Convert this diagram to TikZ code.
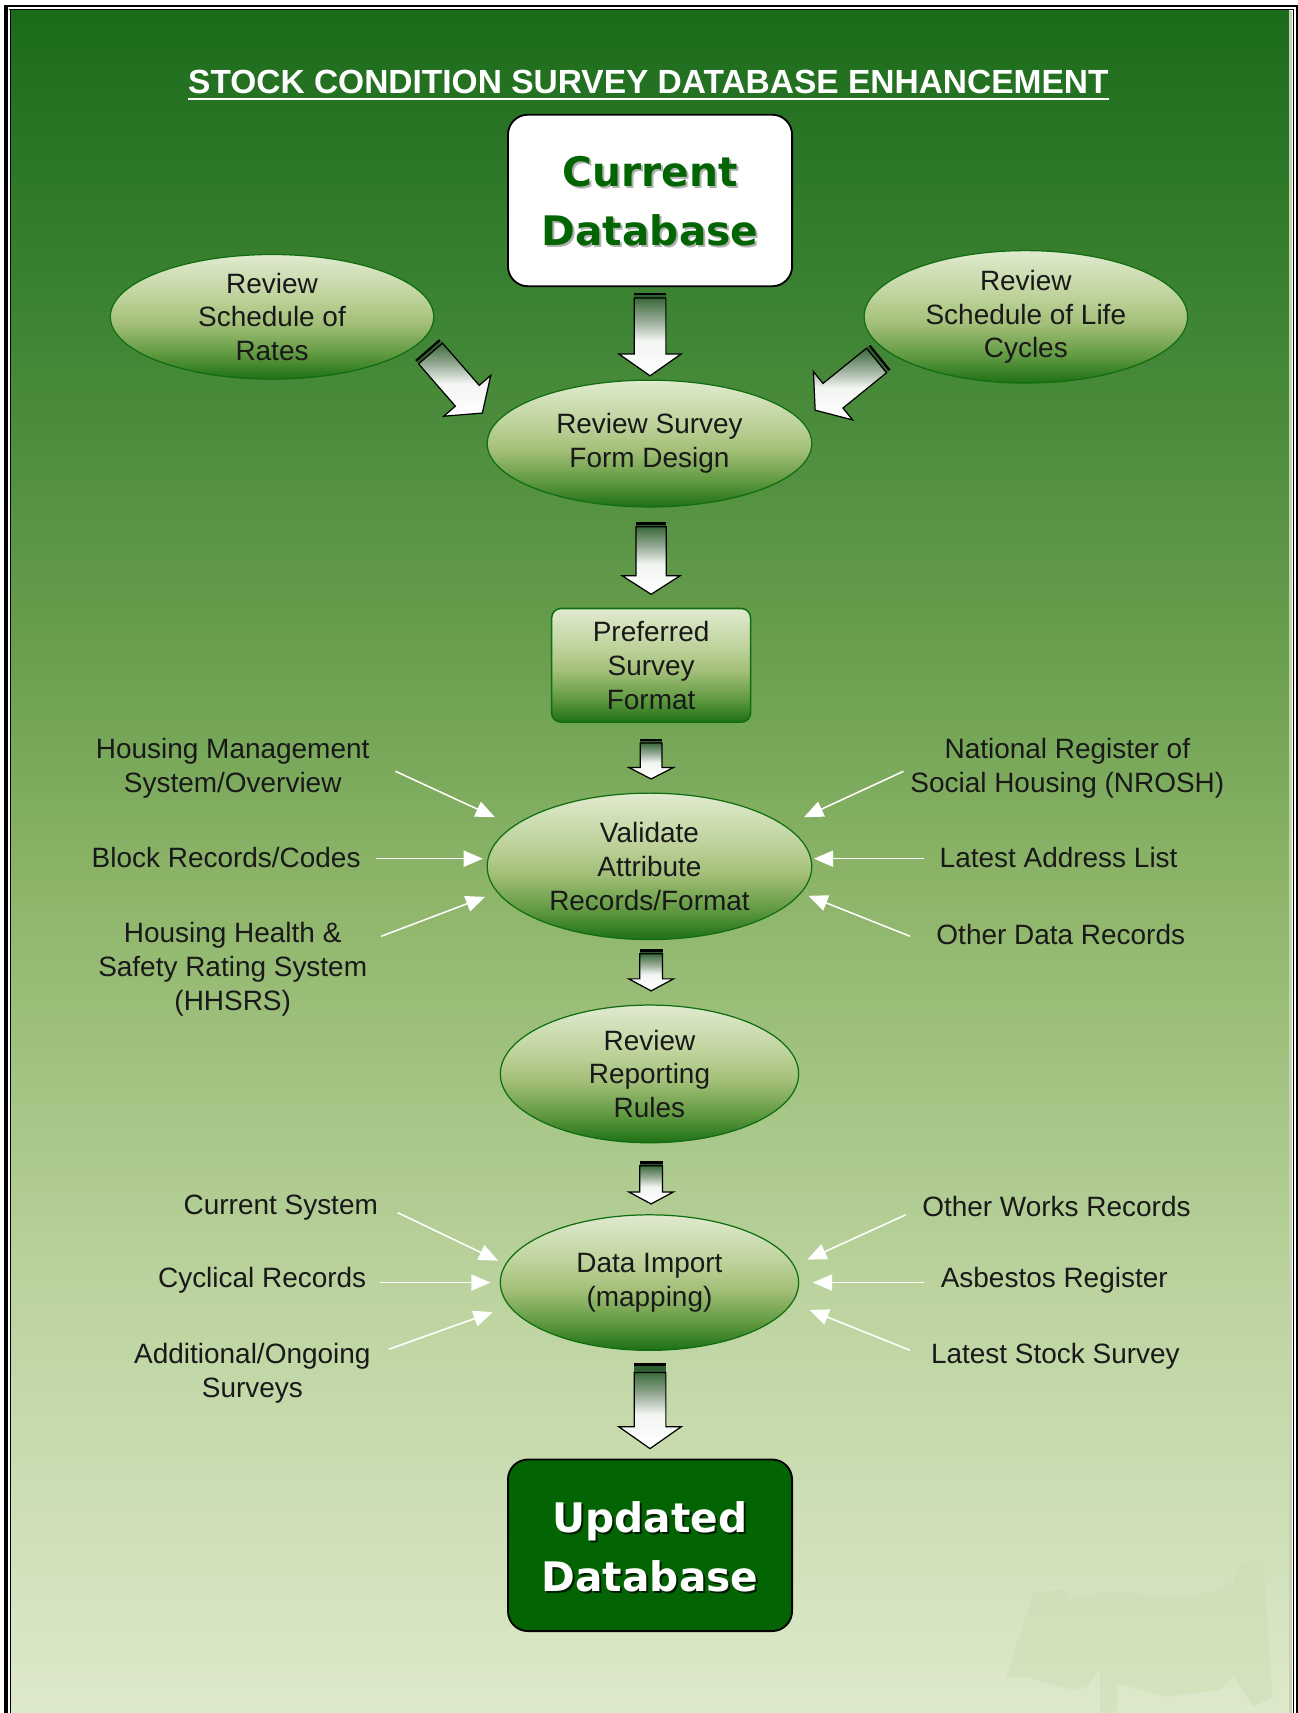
\documentclass[tikz,border=0pt]{standalone}
\usepackage{fontspec}
\setmainfont{Liberation Sans}
\newfontfamily\bighead{DejaVu Sans}
\usetikzlibrary{shapes.geometric,arrows.meta,calc}

% page background: dark green at the top fading to pale green at the bottom
\definecolor{bgtop}{HTML}{1B6B1B}
\definecolor{bgb}{HTML}{3F8535}
\definecolor{bgc}{HTML}{6A9F4F}
\definecolor{bgd}{HTML}{8CB468}
\definecolor{bge}{HTML}{BBD39E}
\definecolor{bgbot}{HTML}{DEE9CC}
\pgfdeclareverticalshading{bggrad}{100bp}{color(0bp)=(bgbot); color(25bp)=(bgbot);
  color(37.5bp)=(bge); color(49.5bp)=(bgd); color(56bp)=(bgc); color(65.6bp)=(bgb);
  color(75bp)=(bgtop); color(100bp)=(bgtop)}

% process shapes: pale top, olive middle, dark green bottom
\definecolor{elA}{HTML}{E0EACF}
\definecolor{elB}{HTML}{BDD29A}
\definecolor{elC}{HTML}{A3BF78}
\definecolor{elD}{HTML}{5F9940}
\definecolor{elE}{HTML}{1E7016}
\definecolor{elline}{HTML}{0F6E0F}
\pgfdeclareverticalshading{ellgrad}{100bp}{color(0bp)=(elE); color(25bp)=(elE);
  color(35bp)=(elD); color(47.5bp)=(elC); color(57.5bp)=(elB);
  color(75bp)=(elA); color(100bp)=(elA)}

% block arrows: dark at the tail, white towards the head
\definecolor{arA}{HTML}{3B6A3B}
\definecolor{arB}{HTML}{9AAE9A}
\definecolor{arC}{HTML}{F2F5F2}
\definecolor{argap}{HTML}{2F5F2F}
\pgfdeclareverticalshading{arrgrad}{100bp}{color(0bp)=(white); color(25bp)=(white);
  color(47.5bp)=(arC); color(60bp)=(arB); color(75bp)=(arA); color(100bp)=(arA)}

\definecolor{dbgreen}{HTML}{036403}
\definecolor{marklight}{HTML}{CBDBB2}
\definecolor{edgestripe}{HTML}{C6D3B0}

% #1 placement, #2 length, #3 shaft width, #4 head width, #5 head length, #6 gap below the cap bar
\newcommand\fatarrow[6]{%
  \begin{scope}[#1]
    \fill[black] (-#3/2,0) -- (#3/2,0) -- (#3/2,2.2) -- (-#3/2,2.2) -- cycle;
    \fill[argap] (-#3/2,2.2) -- (#3/2,2.2) -- (#3/2,2.2+#6) -- (-#3/2,2.2+#6) -- cycle;
    \path[shade, shading=arrgrad, draw=black, line width=0.8pt, line join=miter]
      (-#3/2,2.2+#6) -- (#3/2,2.2+#6) -- (#3/2,#2-#5) -- (#4/2,#2-#5) -- (0,#2)
      -- (-#4/2,#2-#5) -- (-#3/2,#2-#5) -- cycle;
  \end{scope}}

\tikzset{
  bodytext/.style={font=\fontsize{18.2}{22}\selectfont, text=black!90, align=center},
  ell/.style={ellipse, draw=elline, line width=0.8pt, shade, shading=ellgrad,
    inner sep=0pt, bodytext},
  pbox/.style={rectangle, rounded corners=6pt, draw=elline, line width=1pt, shade,
    shading=ellgrad, inner sep=0pt, minimum width=4.55cm, minimum height=2.6cm, bodytext},
  bigbox/.style={rectangle, rounded corners=13pt, draw=black, line width=1.2pt,
    minimum width=6.5cm, minimum height=3.925cm},
  bigtext/.style={font=\bighead\bfseries\fontsize{26.5}{38.4}\selectfont, align=center},
  sidelbl/.style={bodytext},
  feed/.style={draw=white, line width=1pt,
    -{Triangle[length=12.5pt,width=10.5pt,fill=white]}}
}

\begin{document}
\begin{tikzpicture}[x=0.025cm,y=-0.025cm]
\useasboundingbox (0,0) rectangle (1188,1568);

% ---- background and frame
\fill[white] (0,0) rectangle (1188,1568);
\fill[shade, shading=bggrad] (10,10) rectangle (1180,1568);
\fill[edgestripe] (1179.5,10) rectangle (1183,1568);
\draw[black, line width=1.3pt] (4.5,5.6) -- (1187,5.6) -- (1187,1568);
\draw[black, line width=0.9pt] (8.5,8.9) -- (1184,8.9) -- (1184,1568);
\fill[black] (3.7,5) rectangle (7.3,1568);
\draw[black, line width=0.8pt] (9.3,8.9) -- (9.3,1568);

% faint emblem in the lower right corner
\fill[marklight, opacity=0.45] (921,1535) -- (946,1458) -- (976,1455) -- (979,1464)
  -- (1007,1458) -- (1037,1458) -- (1074,1462) -- (1104,1458) -- (1129,1449)
  -- (1135,1431) -- (1156,1428) -- (1165,1553) -- (1147,1562) -- (1129,1535)
  -- (1117,1547) -- (1068,1553) -- (1022,1541) -- (1022,1568) -- (1007,1568)
  -- (1007,1528) -- (995,1544) -- (982,1547) -- (940,1535) -- cycle;

% ---- title
\node[font=\bfseries\fontsize{21.8}{26}\selectfont, text=white, anchor=base, inner sep=0pt]
  (title) at (593.5,86) {STOCK CONDITION SURVEY DATABASE ENHANCEMENT};
\draw[white, line width=1.4pt] ($(title.base west)+(0,4.5)$) -- ($(title.base east)+(0,4.5)$);

% ---- start and end databases
\node[bigbox, fill=white] (cur) at (595,183.5) {};
\node[bigtext, text=black!55, opacity=0.55] (curshade) at (596.8,186.3) {Current\\Database};
\node[bigtext, text=dbgreen] (curtxt) at (595,184.5) {Current\\Database};

\node[bigbox, fill=dbgreen] (upd) at (595,1414.5) {};
\node[bigtext, text=black, opacity=0.7] (updshade) at (596.8,1417.3) {Updated\\Database};
\node[bigtext, text=white] (updtxt) at (595,1415.5) {Updated\\Database};

% ---- process steps
\node[ell, minimum width=7.4cm, minimum height=2.85cm] (rates) at (249,290) {Review\\Schedule of\\Rates};
\node[ell, minimum width=7.4cm, minimum height=2.85cm] (life) at (939,290) {Review\\Schedule of Life\\Cycles};
\node[ell, minimum width=7.425cm, minimum height=2.9cm] (form) at (594.5,406) {Review Survey\\Form Design};
\node[pbox] (pref) at (596,609) {Preferred\\Survey\\Format};
\node[ell, minimum width=7.425cm, minimum height=3.35cm] (valid) at (594.5,793) {Validate\\Attribute\\Records/Format};
\node[ell, minimum width=6.825cm, minimum height=3.15cm] (rules) at (594.5,983) {Review\\Reporting\\Rules};
\node[ell, minimum width=6.825cm, minimum height=3.1cm] (imp) at (594.5,1174) {Data Import\\(mapping)};

% ---- block arrows along the main flow
\fatarrow{shift={(595,268)}}{76}{29}{57}{20}{2.5}
\fatarrow{shift={(391,320)},rotate=41}{77}{29}{57}{21}{2.5}
\fatarrow{shift={(806,327)},rotate=-51}{77}{29}{57}{21}{2.5}
\fatarrow{shift={(596,478)}}{66}{27.5}{53}{17}{2}
\fatarrow{shift={(596,676)}}{37}{20}{41}{10.5}{1.8}
\fatarrow{shift={(596,869)}}{38}{21}{41}{11}{1.8}
\fatarrow{shift={(596,1063)}}{39}{21}{41}{11}{1.8}
\fatarrow{shift={(595,1248)}}{78}{29}{57}{20}{6}

% ---- inputs to validation
\node[sidelbl] (hm) at (213,703) {Housing Management\\System/Overview};
\node[sidelbl] (br) at (207,785) {Block Records/Codes};
\node[sidelbl] (hh) at (213,887) {Housing Health \&\\Safety Rating System\\(HHSRS)};
\node[sidelbl] (nr) at (977,703) {National Register of\\Social Housing (NROSH)};
\node[sidelbl] (la) at (969,785) {Latest Address List};
\node[sidelbl] (od) at (971,855) {Other Data Records};

\coordinate (hm0) at (362,706); \coordinate (hm1) at (453,748);
\coordinate (br0) at (344,786); \coordinate (br1) at (442,786);
\coordinate (hh0) at (349,857); \coordinate (hh1) at (444,821);
\coordinate (nr0) at (827,706); \coordinate (nr1) at (736,748);
\coordinate (la0) at (846,786); \coordinate (la1) at (745,786);
\coordinate (od0) at (833,857); \coordinate (od1) at (740,820);
\draw[feed] (hm0) -- (hm1);
\draw[feed] (br0) -- (br1);
\draw[feed] (hh0) -- (hh1);
\draw[feed] (nr0) -- (nr1);
\draw[feed] (la0) -- (la1);
\draw[feed] (od0) -- (od1);

% ---- inputs to the data import
\node[sidelbl] (cs) at (257,1105) {Current System};
\node[sidelbl] (cr) at (240,1172) {Cyclical Records};
\node[sidelbl] (ad) at (231,1257) {Additional/Ongoing\\Surveys};
\node[sidelbl] (ow) at (967,1104) {Other Works Records};
\node[sidelbl] (as) at (965,1172) {Asbestos Register};
\node[sidelbl] (ls) at (966,1241) {Latest Stock Survey};

\coordinate (cs0) at (364,1110); \coordinate (cs1) at (456,1154);
\coordinate (cr0) at (348,1174); \coordinate (cr1) at (449,1174);
\coordinate (ad0) at (356,1235); \coordinate (ad1) at (451,1201);
\coordinate (ow0) at (829,1112); \coordinate (ow1) at (739,1153);
\coordinate (as0) at (846,1174); \coordinate (as1) at (744,1174);
\coordinate (ls0) at (833,1236); \coordinate (ls1) at (741,1199);
\draw[feed] (cs0) -- (cs1);
\draw[feed] (cr0) -- (cr1);
\draw[feed] (ad0) -- (ad1);
\draw[feed] (ow0) -- (ow1);
\draw[feed] (as0) -- (as1);
\draw[feed] (ls0) -- (ls1);
\end{tikzpicture}
\end{document}
